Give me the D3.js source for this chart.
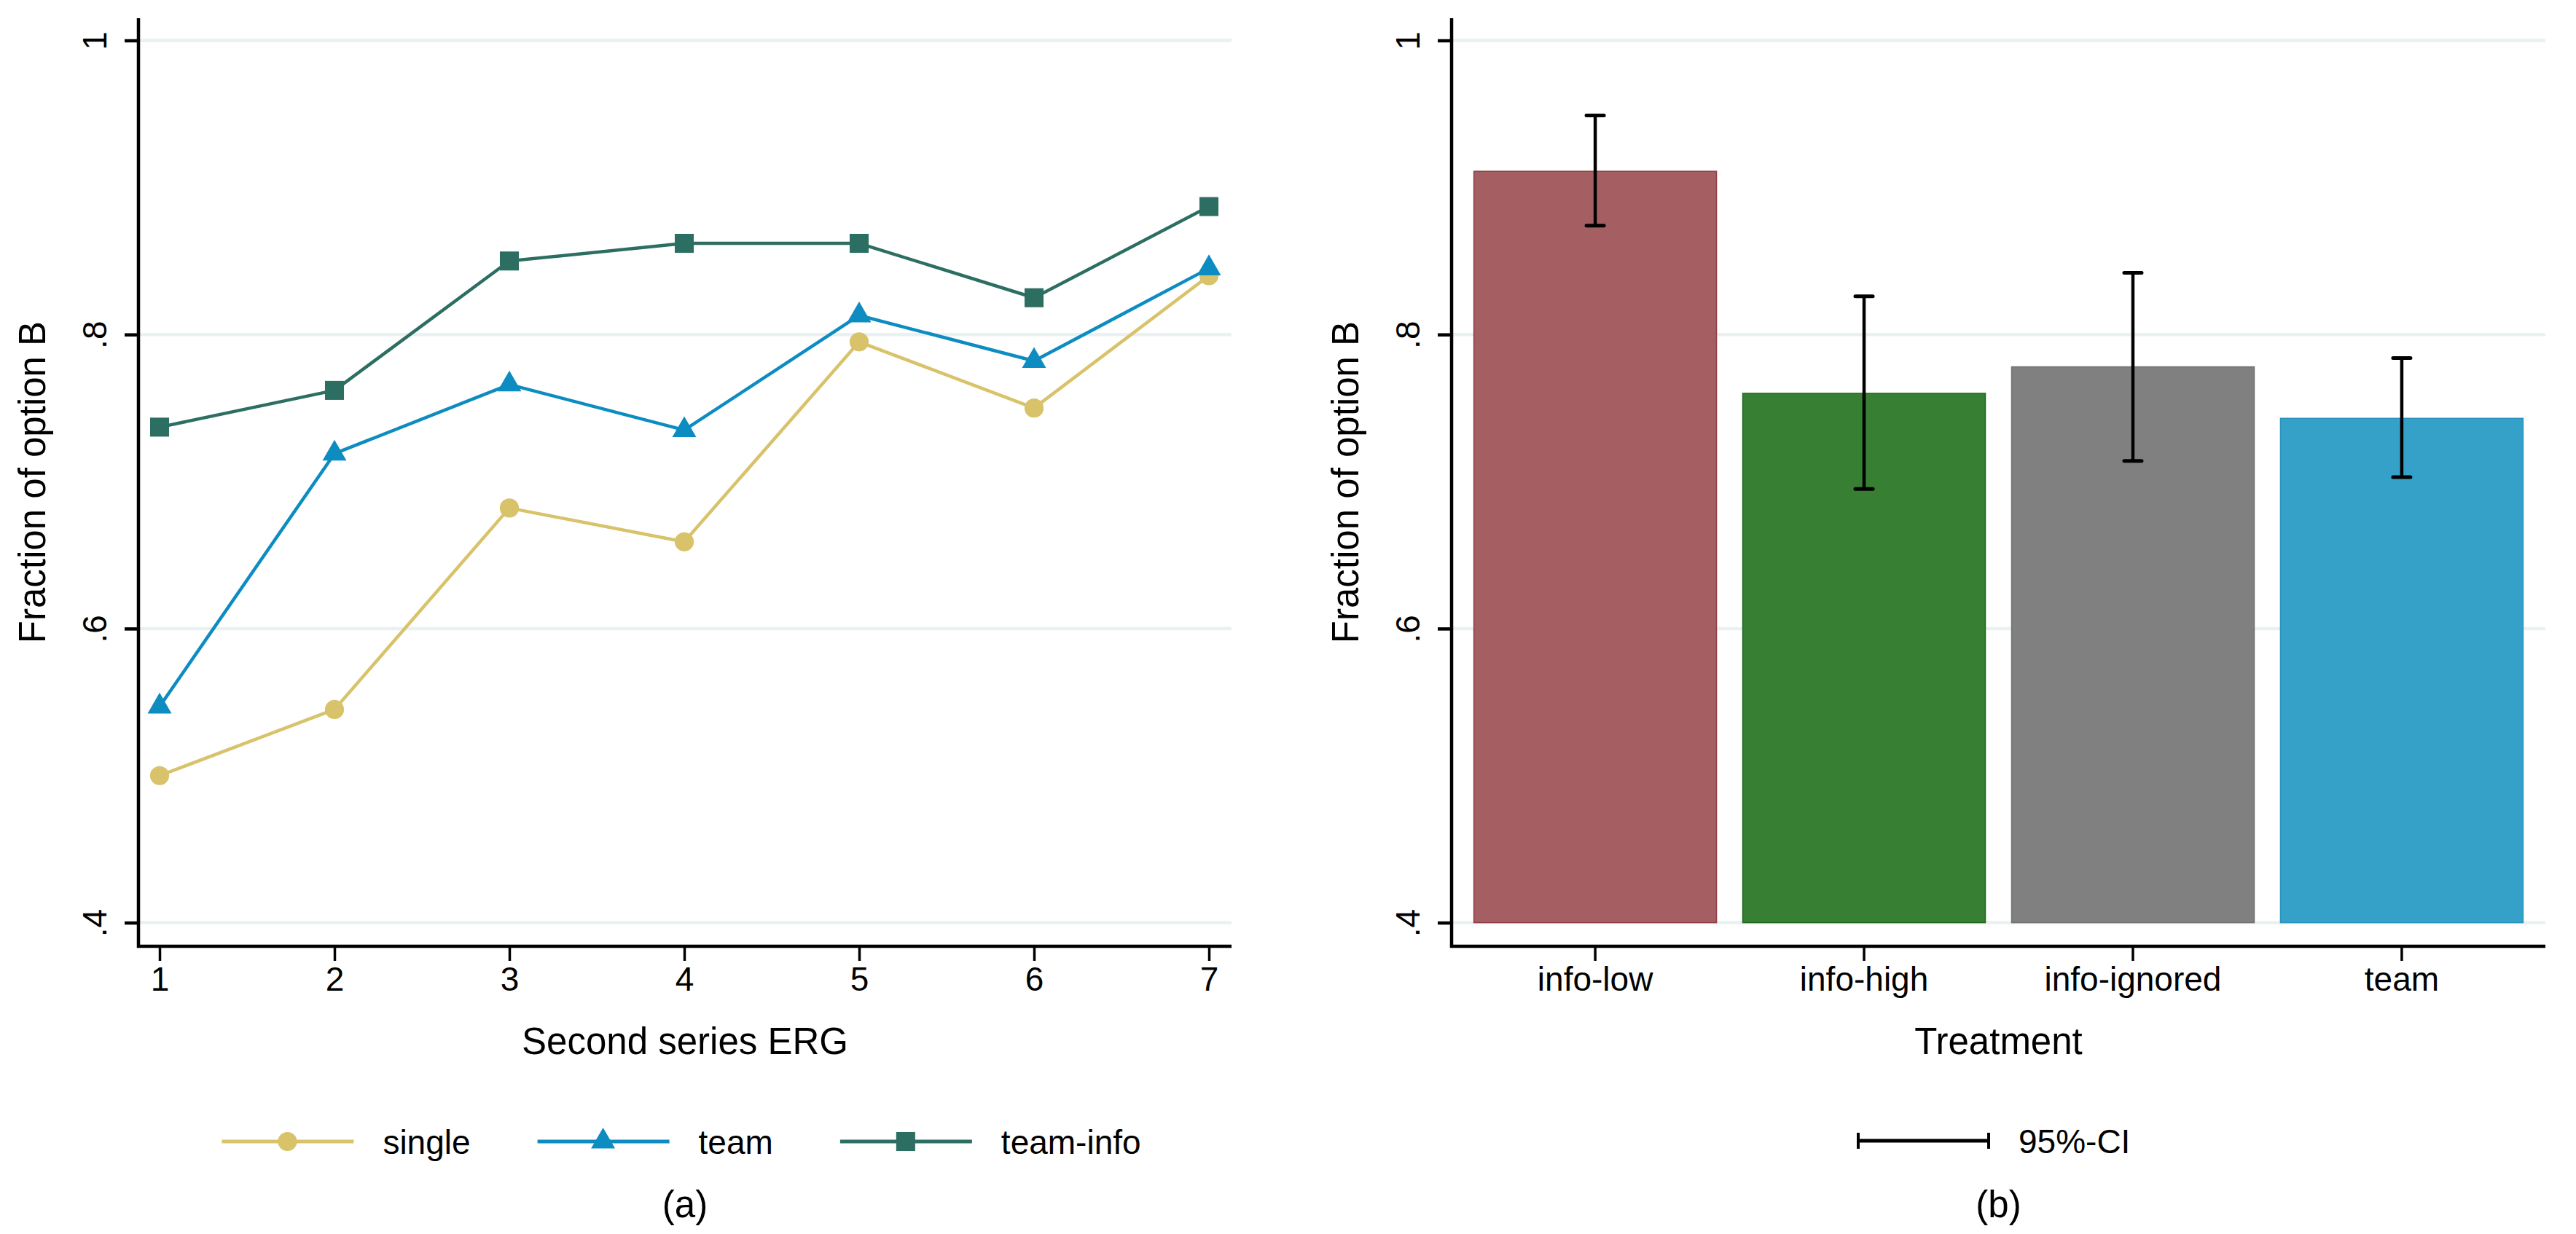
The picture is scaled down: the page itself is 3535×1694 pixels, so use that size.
<!DOCTYPE html>
<html>
<head>
<meta charset="utf-8">
<script src="https://cdn.jsdelivr.net/npm/d3@7"></script>
<style>
    body { margin: 0; background: #fff; }
    svg text { font-family: "Liberation Sans", Arial, sans-serif; fill: #000; }
</style>
</head>
<body>
<div id="chart"></div>
<script>
"use strict";

// panel (a): fraction of option B by second series ERG
const ergRounds = [1, 2, 3, 4, 5, 6, 7];
const singleVals = [0.500, 0.545, 0.682, 0.659, 0.795, 0.750, 0.840];
const teamVals = [0.547, 0.719, 0.766, 0.735, 0.813, 0.782, 0.845];
const teamInfoVals = [0.737, 0.762, 0.850, 0.862, 0.862, 0.825, 0.887];
const seriesNames = ["single", "team", "team-info"];

// panel (b): fraction of option B by treatment with 95%-CI
const treatments = ["info-low", "info-high", "info-ignored", "team"];
const barMeans = [0.911, 0.760, 0.778, 0.743];
const ciLow = [0.874, 0.695, 0.714, 0.703];
const ciHigh = [0.949, 0.826, 0.842, 0.784];

const yTicks = [0.4, 0.6, 0.8, 1];
const yTickLabels = [".4", ".6", ".8", "1"];

const W = 3535, H = 1694;
const axisTop = 25, gridTop = 55.5, gridBottom = 1266.6, axisY = 1299;
const fontTick = 46, fontTitle = 51;
const gridColor = "#e9f1f2";

const seriesColors = ["#d8c26a", "#0d8cc1", "#2d6e62"];
const seriesSymbols = [d3.symbolCircle, d3.symbolTriangle, d3.symbolSquare];
const symbolSizes = [540, 470, 680];
const barFill = ["#a55e62", "#367f33", "#808080", "#35a1c9"];
const barStroke = ["#8c3c45", "#1f6a1f", "#707070", "#2a93bd"];

const svg = d3.select("#chart").append("svg")
              .attr("width", W)
              .attr("height", H);
svg.append("rect").attr("width", W).attr("height", H).attr("fill", "#fff");

const yScale = d3.scaleLinear().domain([0.4, 1]).range([gridBottom, gridTop]);

// shared frame: gridlines, y axis, y title, x axis line
const drawFrame = (g, left, right, yTitle) => {
    g.selectAll(".grid").data(yTicks).enter()
     .append("line")
     .attr("x1", left).attr("x2", right)
     .attr("y1", d => yScale(d)).attr("y2", d => yScale(d))
     .attr("stroke", gridColor).attr("stroke-width", 4.5);

    const yAxis = g.append("g")
                   .attr("transform", `translate(${left},0)`)
                   .call(d3.axisLeft(yScale).tickValues(yTicks)
                           .tickFormat((d, i) => yTickLabels[i])
                           .tickSize(19).tickSizeOuter(0).tickPadding(0));
    yAxis.select(".domain").remove();
    yAxis.selectAll(".tick line").attr("stroke", "#000").attr("stroke-width", 4.5);
    yAxis.selectAll(".tick text")
         .attr("x", null).attr("dy", null)
         .attr("text-anchor", "middle")
         .attr("transform", "translate(-44,0) rotate(-90)")
         .style("font-size", fontTick + "px");

    g.append("line")
     .attr("x1", left).attr("x2", left)
     .attr("y1", axisTop).attr("y2", axisY + 2)
     .attr("stroke", "#000").attr("stroke-width", 4.5);
    g.append("line")
     .attr("x1", left - 2).attr("x2", right)
     .attr("y1", axisY).attr("y2", axisY)
     .attr("stroke", "#000").attr("stroke-width", 4.5);

    g.append("text")
     .attr("transform", `translate(${left - 128},${(axisTop + axisY) / 2}) rotate(-90)`)
     .attr("text-anchor", "middle")
     .style("font-size", fontTitle + "px")
     .text(yTitle);
};

const styleXAxis = (axisG) => {
    axisG.select(".domain").remove();
    axisG.selectAll(".tick line").attr("stroke", "#000").attr("stroke-width", 3.5);
    axisG.selectAll(".tick text")
         .attr("dy", null).attr("y", 61)
         .style("font-size", fontTick + "px");
};

// ---------- panel (a) ----------
const drawLinePanel = () => {
    const left = 190, right = 1690;
    const g = svg.append("g");
    drawFrame(g, left, right, "Fraction of option B");

    const xScale = d3.scaleLinear().domain([1, 7]).range([219, 1659]);
    const xAxis = g.append("g")
                   .attr("transform", `translate(0,${axisY})`)
                   .call(d3.axisBottom(xScale).tickValues(ergRounds)
                           .tickFormat(d3.format("d")).tickSize(20).tickSizeOuter(0));
    styleXAxis(xAxis);

    const allSeries = [singleVals, teamVals, teamInfoVals];
    const line = d3.line().x((d, i) => xScale(ergRounds[i])).y(d => yScale(d));

    allSeries.forEach((vals, s) => {
        g.append("path")
         .datum(vals)
         .attr("d", line)
         .attr("fill", "none")
         .attr("stroke", seriesColors[s])
         .attr("stroke-width", 4.5)
         .attr("stroke-linejoin", "round");
        g.selectAll(".m" + s).data(vals).enter()
         .append("path")
         .attr("transform", (d, i) => `translate(${xScale(ergRounds[i])},${yScale(d)})`)
         .attr("d", d3.symbol().type(seriesSymbols[s]).size(symbolSizes[s]))
         .attr("fill", seriesColors[s]);
    });

    g.append("text")
     .attr("x", (left + right) / 2).attr("y", 1447)
     .attr("text-anchor", "middle")
     .style("font-size", fontTitle + "px")
     .text("Second series ERG");

    // legend
    const leg = g.append("g");
    let cursor = 0;
    seriesNames.forEach((name, s) => {
        const item = leg.append("g").attr("transform", `translate(${cursor},0)`);
        item.append("line")
            .attr("x1", 0).attr("x2", 181).attr("y1", 0).attr("y2", 0)
            .attr("stroke", seriesColors[s]).attr("stroke-width", 5);
        item.append("path")
            .attr("transform", "translate(90,0)")
            .attr("d", d3.symbol().type(seriesSymbols[s]).size(symbolSizes[s]))
            .attr("fill", seriesColors[s]);
        const t = item.append("text")
                      .attr("x", 221).attr("y", 17)
                      .style("font-size", fontTick + "px")
                      .text(name);
        cursor += 221 + t.node().getComputedTextLength() + 92;
    });
    const legWidth = cursor - 92;
    leg.attr("transform", `translate(${935 - legWidth / 2},1567)`);

    g.append("text")
     .attr("x", (left + right) / 2).attr("y", 1671)
     .attr("text-anchor", "middle")
     .style("font-size", fontTitle + "px")
     .text("(a)");
};

// ---------- panel (b) ----------
const drawBarPanel = () => {
    const left = 1992, right = 3493;
    const g = svg.append("g");
    drawFrame(g, left, right, "Fraction of option B");

    const xScale = d3.scaleBand()
                     .domain(treatments)
                     .range([left, right])
                     .paddingInner(0.0976)
                     .paddingOuter(0.083);

    g.selectAll(".bar").data(treatments).enter()
     .append("rect")
     .attr("x", d => xScale(d))
     .attr("width", xScale.bandwidth())
     .attr("y", (d, i) => yScale(barMeans[i]))
     .attr("height", (d, i) => yScale(0.4) - yScale(barMeans[i]))
     .attr("fill", (d, i) => barFill[i])
     .attr("stroke", (d, i) => barStroke[i])
     .attr("stroke-width", 1.5);

    const cx = d => xScale(d) + xScale.bandwidth() / 2;
    const ci = g.selectAll(".ci").data(treatments).enter().append("g");
    ci.append("line")
      .attr("x1", cx).attr("x2", cx)
      .attr("y1", (d, i) => yScale(ciLow[i])).attr("y2", (d, i) => yScale(ciHigh[i]))
      .attr("stroke", "#000").attr("stroke-width", 4.5);
    [ciLow, ciHigh].forEach(arr => {
        ci.append("line")
          .attr("x1", d => cx(d) - 12).attr("x2", d => cx(d) + 12)
          .attr("y1", (d, i) => yScale(arr[i])).attr("y2", (d, i) => yScale(arr[i]))
          .attr("stroke", "#000").attr("stroke-width", 5)
          .attr("stroke-linecap", "round");
    });

    const xAxis = g.append("g")
                   .attr("transform", `translate(0,${axisY})`)
                   .call(d3.axisBottom(xScale).tickSize(20).tickSizeOuter(0));
    styleXAxis(xAxis);

    g.append("text")
     .attr("x", (left + right) / 2).attr("y", 1447)
     .attr("text-anchor", "middle")
     .style("font-size", fontTitle + "px")
     .text("Treatment");

    // legend: 95%-CI
    const leg = g.append("g").attr("transform", "translate(2550,1566)");
    leg.append("line").attr("x1", 0).attr("x2", 179).attr("y1", 0).attr("y2", 0)
       .attr("stroke", "#000").attr("stroke-width", 5);
    [0, 179].forEach(x => {
        leg.append("line").attr("x1", x).attr("x2", x).attr("y1", -11).attr("y2", 11)
           .attr("stroke", "#000").attr("stroke-width", 4);
    });
    leg.append("text")
       .attr("x", 220).attr("y", 17)
       .style("font-size", fontTick + "px")
       .text("95%-CI");

    g.append("text")
     .attr("x", (left + right) / 2).attr("y", 1671)
     .attr("text-anchor", "middle")
     .style("font-size", fontTitle + "px")
     .text("(b)");
};

drawLinePanel();
drawBarPanel();
</script>
</body>
</html>
